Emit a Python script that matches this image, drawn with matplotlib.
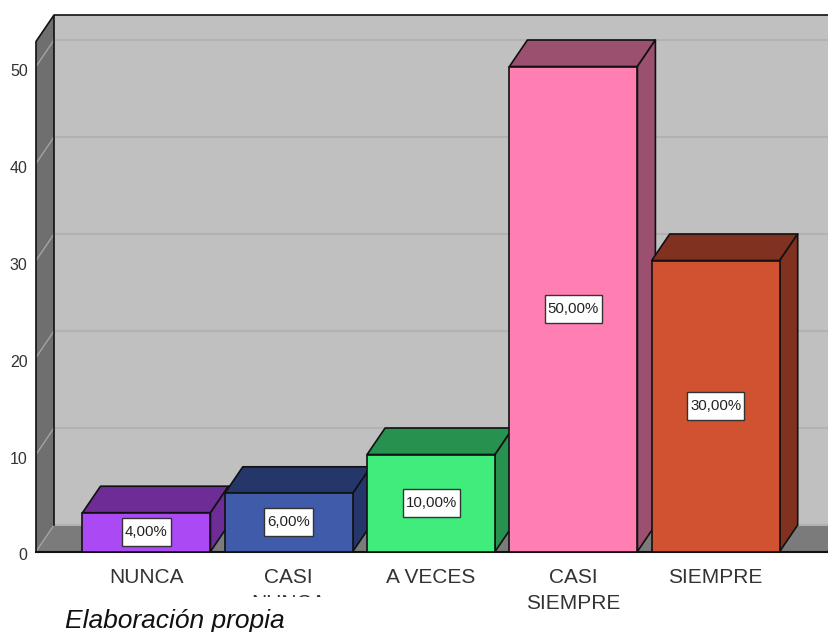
import matplotlib
matplotlib.use("Agg")
import matplotlib.pyplot as plt
from matplotlib.patches import Polygon, Rectangle
from matplotlib.transforms import Bbox, ScaledTranslation

categorias = ["NUNCA", "CASI\nNUNCA", "A VECES", "CASI\nSIEMPRE", "SIEMPRE"]
valores = [4, 6, 10, 50, 30]
etiquetas = ["4,00%", "6,00%", "10,00%", "50,00%", "30,00%"]
coloresFrente = ["#ab4af5", "#3f5ba9", "#40ec7c", "#ff7fb2", "#d05230"]
coloresOscuros = ["#6e2c96", "#25366a", "#27914f", "#9b5070", "#80311f"]
ticksY = [0, 10, 20, 30, 40, 50]

ANCHO, ALTO = 829, 632
pxPorCategoria = 142.3
pxPorUnidad = 9.7
centroPrimera = 146.5
izquierda, derecha, arriba, abajo = 36, 829, 15, 551.5
fuente = "Liberation Sans"

fig = plt.figure(figsize=(ANCHO / 100, ALTO / 100), dpi=100)
axe = fig.add_axes([
    izquierda / ANCHO,
    (ALTO - abajo) / ALTO,
    (derecha - izquierda) / ANCHO,
    (abajo - arriba) / ALTO,
])
axe.set_xlim(
    (izquierda - centroPrimera) / pxPorCategoria,
    (derecha - centroPrimera) / pxPorCategoria,
)
axe.set_ylim(0, (abajo - arriba) / pxPorUnidad)
for lado in axe.spines.values():
    lado.set_visible(False)

# profundidad de la caja 3D en unidades de datos
dx = 18 / pxPorCategoria
dy = 26.5 / pxPorUnidad
x0, x1 = axe.get_xlim()
yMax = axe.get_ylim()[1]
trazo = 1.2

# pared del fondo, pared izquierda y suelo
axe.add_patch(Rectangle((x0 + dx, dy), x1 - x0, yMax - dy, fc="#c0c0c0", ec="none", zorder=1))
axe.add_patch(Polygon(
    [(x0, 0), (x0 + dx, dy), (x0 + dx, yMax), (x0, yMax - dy)],
    fc="#6f6f6f", ec="none", zorder=1,
))
axe.add_patch(Polygon(
    [(x0, 0), (x1 + 1, 0), (x1 + 1, dy), (x0 + dx, dy)],
    fc="#7b7b7b", ec="none", zorder=1,
))

# rejilla sobre las paredes
for valor in ticksY:
    axe.plot([x0 + dx, x1], [valor + dy, valor + dy], color="#b2b2b2", lw=1.5, zorder=2)
    axe.plot([x0, x0 + dx], [valor, valor + dy], color="#a3a3a3", lw=1.0, zorder=2)

# contorno de la caja
axe.plot([x0, x0, x0 + dx, x1], [0, yMax - dy, yMax, yMax], color="#111111", lw=trazo, zorder=3, clip_on=False)
axe.plot([x0 + dx, x0 + dx], [dy, yMax], color="#111111", lw=trazo, zorder=3)
axe.plot([x0, 4.79], [0, 0], color="#111111", lw=trazo + 0.3, zorder=3, clip_on=False)
axe.plot([4.79, 4.79 + dx], [0, dy], color="#111111", lw=trazo, zorder=3)

# barras con cara superior y lateral
anchoBarra = 128 / pxPorCategoria
for i, valor in enumerate(valores):
    orden = 4 + i
    a = i - anchoBarra / 2
    b = i + anchoBarra / 2
    axe.add_patch(Polygon(
        [(a, valor), (b, valor), (b + dx, valor + dy), (a + dx, valor + dy)],
        fc=coloresOscuros[i], ec="#111111", lw=trazo, joinstyle="round", zorder=orden,
    ))
    axe.add_patch(Polygon(
        [(b, 0), (b + dx, dy), (b + dx, valor + dy), (b, valor)],
        fc=coloresOscuros[i], ec="#111111", lw=trazo, joinstyle="round", zorder=orden,
    ))
    axe.bar(i, valor, width=anchoBarra, color=coloresFrente[i], edgecolor="#111111", linewidth=trazo, zorder=orden)

# recuadros con el porcentaje
for i, valor in enumerate(valores):
    anchoCaja = (49 if i < 2 else 57) / pxPorCategoria
    altoCaja = 28 / pxPorUnidad
    axe.add_patch(Rectangle(
        (i - anchoCaja / 2, valor / 2 - altoCaja / 2), anchoCaja, altoCaja,
        fc="white", ec="#333333", lw=1.0, zorder=20,
    ))
    axe.text(
        i, valor / 2, etiquetas[i],
        ha="center", va="center", family=fuente,
        fontsize=10.8, color="#222222", zorder=21,
    )

axe.set_yticks(ticksY)
axe.set_yticklabels([str(v) for v in ticksY], family=fuente, fontsize=11.5, color="#333333")
axe.set_xticks(range(len(categorias)))
axe.set_xticklabels(categorias, family=fuente, fontsize=15, color="#333333", linespacing=1.45)
axe.tick_params(axis="y", length=0, pad=6)
axe.tick_params(axis="x", length=0, pad=12)

# los numeros del eje quedan algo por debajo de su linea
bajada = ScaledTranslation(0, -3 / 100, fig.dpi_scale_trans)
for etiqueta in axe.get_yticklabels():
    etiqueta.set_transform(etiqueta.get_transform() + bajada)

# la segunda linea de CASI NUNCA queda cortada
recorte = Bbox.from_extents(0, ALTO - 597, ANCHO, ALTO)
etiquetaCortada = axe.get_xticklabels()[1]
etiquetaCortada.set_clip_on(True)
etiquetaCortada.set_clip_box(recorte)

fig.text(
    65 / ANCHO, (ALTO - 628) / ALTO, "Elaboración propia",
    family=fuente, style="italic", fontsize=19, color="#111111",
)

fig.savefig("out.png", dpi=100)
plt.close(fig)
